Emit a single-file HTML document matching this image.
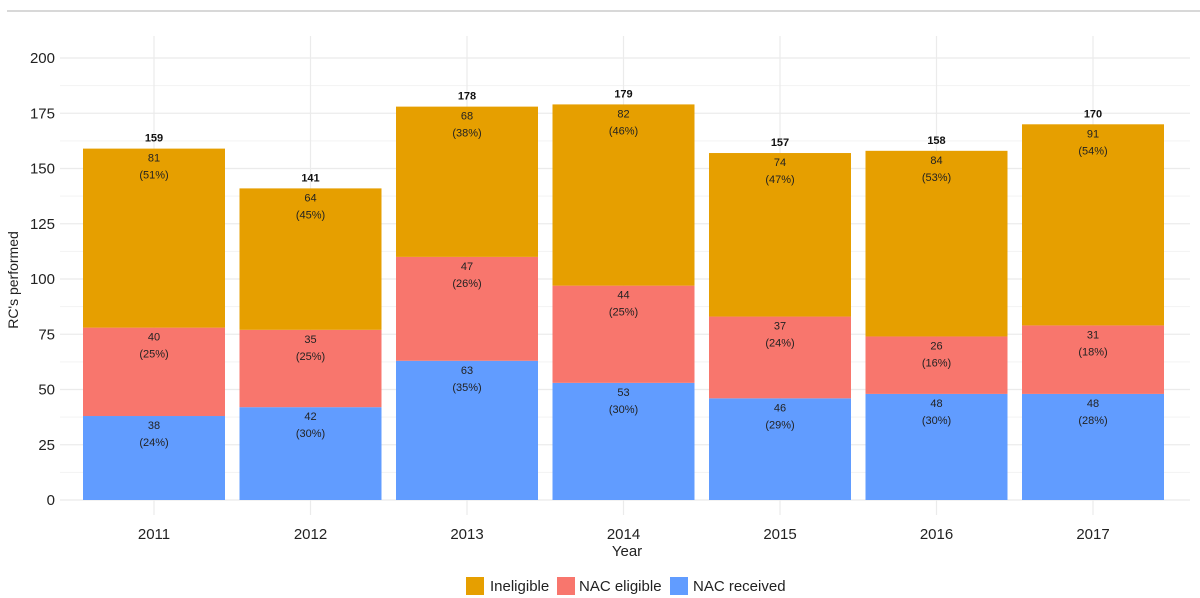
<!DOCTYPE html>
<html><head><meta charset="utf-8"><style>
body{margin:0;background:#fff;font-family:"Liberation Sans",sans-serif;}
svg{display:block}
</style></head><body>
<svg id="chart" width="1200" height="598" xmlns="http://www.w3.org/2000/svg">
<line x1="7" y1="11" x2="1200" y2="11" stroke="#ccc" stroke-width="1.5"/>
<g id="grid"></g><g id="bars"></g><g id="labels"></g>
<text x="18" y="280" transform="rotate(-90 18 280)" text-anchor="middle" font-size="14" fill="#222">RC's performed</text>
<text x="627" y="556" text-anchor="middle" font-size="15" fill="#222">Year</text>
<g>
<rect x="466" y="577" width="18" height="18" fill="#E69F00"/>
<text x="490" y="591" font-size="15" fill="#222">Ineligible</text>
<rect x="557" y="577" width="18" height="18" fill="#F8766D"/>
<text x="579" y="591" font-size="15" fill="#222">NAC eligible</text>
<rect x="670" y="577" width="18" height="18" fill="#619CFF"/>
<text x="693" y="591" font-size="15" fill="#222">NAC received</text>
</g>
</svg>
<script>
const years=["2011","2012","2013","2014","2015","2016","2017"];
const received=[38,42,63,53,46,48,48];
const eligible=[40,35,47,44,37,26,31];
const ineligible=[81,64,68,82,74,84,91];
const yTicks=[0,25,50,75,100,125,150,175,200];
const NS="http://www.w3.org/2000/svg";
const y=v=>500-v*2.21;
const x=i=>154+i*156.5;
const bw=142;
function mk(tag,attrs,parent,txt){const e=document.createElementNS(NS,tag);for(const k in attrs)e.setAttribute(k,attrs[k]);if(txt!==undefined)e.textContent=txt;parent.appendChild(e);return e;}
const grid=document.getElementById('grid'),bars=document.getElementById('bars'),labels=document.getElementById('labels'),svg=document.getElementById('chart');
yTicks.forEach((t,k)=>{
  const g=mk('line',{x1:60,x2:1190,y1:y(t),y2:y(t),stroke:'#ebebeb','stroke-width':1.2},grid);
  
  if(k<yTicks.length-1){const m=mk('line',{x1:60,x2:1190,y1:y(t+12.5),y2:y(t+12.5),stroke:'#f3f3f3','stroke-width':1},grid);
  }
  const tl=mk('text',{x:55,y:y(t)+5,'text-anchor':'end','font-size':15,fill:'#222'},svg,String(t));
  
});
years.forEach((yr,i)=>{
  const vl=mk('line',{x1:x(i),x2:x(i),y1:36,y2:515,stroke:'#ebebeb','stroke-width':1.2},grid);
  
  const xl=mk('text',{x:x(i),y:539,'text-anchor':'middle','font-size':15,fill:'#222'},svg,yr);
  
  const total=received[i]+eligible[i]+ineligible[i];
  const segs=[[received[i],'#619CFF','nac-received'],[eligible[i],'#F8766D','nac-eligible'],[ineligible[i],'#E69F00','ineligible']];
  let base=0;
  segs.forEach(s=>{
    const top=base+s[0];
    const r=mk('rect',{x:x(i)-bw/2,y:y(top),width:bw,height:y(base)-y(top),fill:s[1]},bars);
    
    const t1=mk('text',{x:x(i),y:y(top)+13,'text-anchor':'middle','font-size':11,fill:'#222'},labels,String(s[0]));
    
    const t2=mk('text',{x:x(i),y:y(top)+30,'text-anchor':'middle','font-size':11,fill:'#222'},labels,'('+Math.round(s[0]/total*100)+'%)');
    
    base=top;
  });
  const tt=mk('text',{x:x(i),y:y(total)-7,'text-anchor':'middle','font-size':11,'font-weight':'bold',fill:'#111'},labels,String(total));
  
});
</script>
</body></html>
